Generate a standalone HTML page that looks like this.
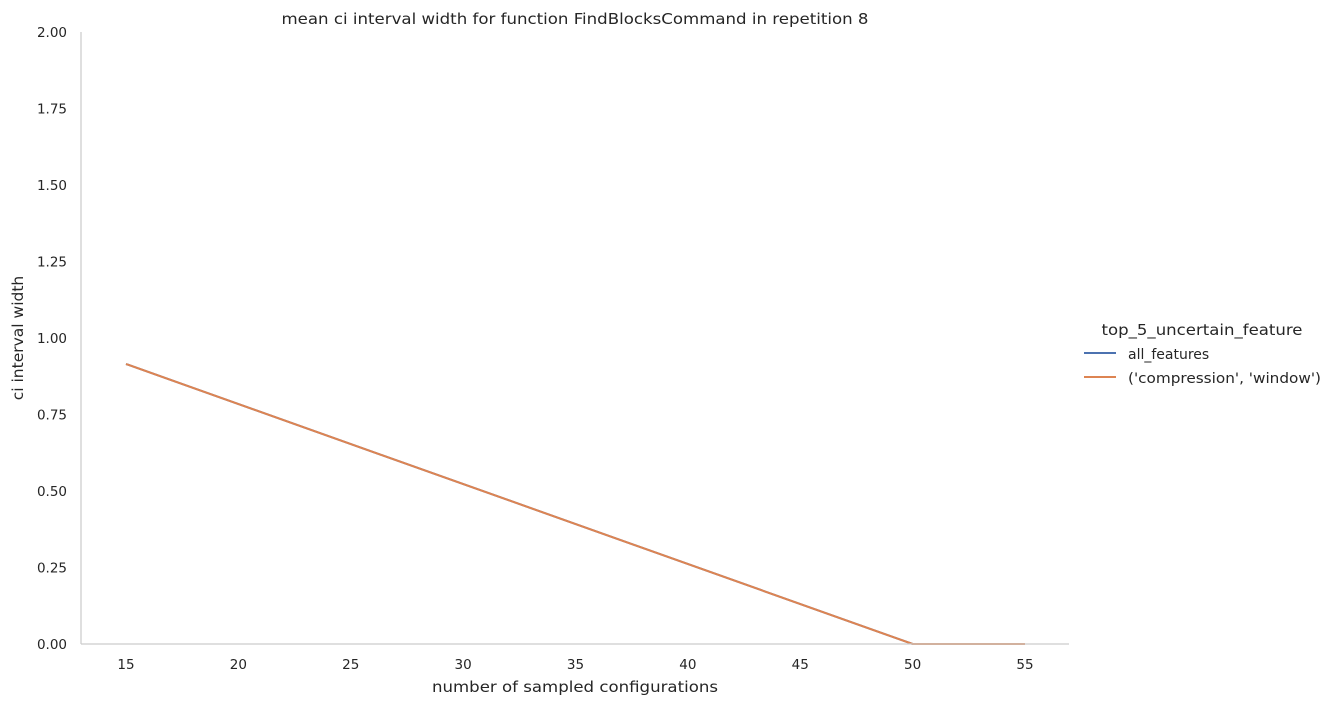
<!DOCTYPE html>
<html><head><meta charset="utf-8"><style>
body{margin:0;background:#fff;font-family:"DejaVu Sans","Liberation Sans",sans-serif;}
svg text{fill:#262626;font-family:"DejaVu Sans","Liberation Sans",sans-serif;}
</style></head><body>
<svg id="chart" width="1334" height="706" xmlns="http://www.w3.org/2000/svg">
<text x="575" y="24" font-size="15.5" text-anchor="middle" textLength="587" lengthAdjust="spacingAndGlyphs">mean ci interval width for function FindBlocksCommand in repetition 8</text>
<g id="axes"></g>
<g id="series"></g>
<text x="575" y="692" font-size="15.5" text-anchor="middle" textLength="286" lengthAdjust="spacingAndGlyphs">number of sampled configurations</text>
<text transform="translate(23,338) rotate(-90)" font-size="15.5" text-anchor="middle">ci interval width</text>
<g>
<text x="1202" y="335" font-size="15.5" text-anchor="middle" textLength="201" lengthAdjust="spacingAndGlyphs">top_5_uncertain_feature</text>
<line x1="1084" y1="353" x2="1116" y2="353" stroke="#4c72b0" stroke-width="2"/>
<text x="1128" y="359" font-size="14">all_features</text>
<line x1="1084" y1="377" x2="1116" y2="377" stroke="#dd8452" stroke-width="2"/>
<text x="1128" y="383" font-size="14" textLength="193" lengthAdjust="spacingAndGlyphs">('compression', 'window')</text>
</g>
</svg>
<script>
const xTicks=[15,20,25,30,35,40,45,50,55];
const yTicks=[0,0.25,0.5,0.75,1.0,1.25,1.5,1.75,2.0];
const xVals=[15,50,55];
const allFeatures=[0.915,0,0];
const compressionWindow=[0.915,0,0];
const X=v=>126+(v-15)*(1025-126)/40;
const Y=v=>644-v*306;
const NS="http://www.w3.org/2000/svg";
const ax=document.getElementById('axes'),se=document.getElementById('series');
function mk(tag,attrs,parent){const e=document.createElementNS(NS,tag);for(const k in attrs)e.setAttribute(k,attrs[k]);parent.appendChild(e);return e;}
const ls=mk('line',{x1:81,y1:32,x2:81,y2:644,stroke:'#cccccc','stroke-width':1.25},ax);


xTicks.forEach(t=>{const e=mk('text',{x:X(t),y:669,'font-size':13.5,'text-anchor':'middle'},ax);e.textContent=t;

});
yTicks.forEach(t=>{const e=mk('text',{x:67,y:Y(t)+5,'font-size':13.5,'text-anchor':'end'},ax);e.textContent=t.toFixed(2);

});
function line(vals,color,name){const p=mk('polyline',{points:xVals.map((x,i)=>X(x)+','+Y(vals[i])).join(' '),fill:'none',stroke:color,'stroke-width':2},se);

}
line(allFeatures,'#4c72b0','line-all-features');
line(compressionWindow,'#dd8452','line-compression-window');
const bs=mk('line',{x1:81,y1:644,x2:1069,y2:644,stroke:'#cccccc','stroke-width':1.25},se);


</script>
</body></html>
